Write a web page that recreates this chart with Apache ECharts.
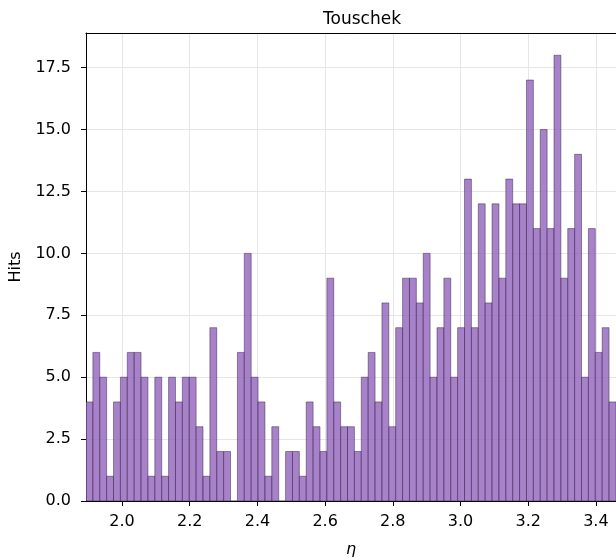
<!DOCTYPE html>
<html>
<head>
<meta charset="utf-8">
<title>Touschek</title>
<script src="https://cdn.jsdelivr.net/npm/echarts@6/dist/echarts.min.js"></script>
<style>
  html, body { margin: 0; padding: 0; background: #fff; }
  #chart { width: 616px; height: 558px; }
</style>
</head>
<body>
<div id="chart"></div>
<script>
// histogram of eta, bins (the frame cuts the plot on the right)
var binStart = 1.8935;
var binEnd = 3.5;
var binCount = 79;
var xVisibleMax = 3.4595;
var hits = [4, 6, 5, 1, 4, 5, 6, 6, 5, 1, 5, 1, 5, 4, 5, 5, 3, 1, 7, 2,
            2, 0, 6, 10, 5, 4, 1, 3, 0, 2, 2, 1, 4, 3, 2, 9, 4, 3, 3, 2,
            5, 6, 4, 8, 3, 7, 9, 9, 8, 10, 5, 7, 9, 5, 7, 13, 7, 12, 8, 12,
            9, 13, 12, 12, 17, 11, 15, 11, 18, 9, 11, 14, 5, 11, 6, 7, 4];
var xTicks = [2.0, 2.2, 2.4, 2.6, 2.8, 3.0, 3.2, 3.4];
var yTicks = [0, 2.5, 5, 7.5, 10, 12.5, 15, 17.5];

var binWidth = (binEnd - binStart) / binCount;
var bins = [];
for (var i = 0; i < hits.length; i++) {
    bins.push([binStart + i * binWidth, binStart + (i + 1) * binWidth, hits[i]]);
}

var font = 'DejaVu Sans';
var myChart = echarts.init(document.getElementById('chart'));
var option = {
    animation: false,
    title: {
        text: 'Touschek',
        left: 357,
        top: 6,
        textAlign: 'center',
        textStyle: { fontFamily: font, fontSize: 17, fontWeight: 'normal', color: '#000' }
    },
    grid: {
        left: 86,
        top: 33,
        right: 0,
        bottom: 57,
        outerBoundsMode: 'none'
    },
    xAxis: [{
        type: 'value',
        min: binStart,
        max: xVisibleMax,
        name: 'η',
        nameLocation: 'middle',
        nameGap: 41,
        nameTextStyle: { fontFamily: font, fontSize: 16, fontStyle: 'italic', color: '#000' },
        axisLine: { show: true, lineStyle: { color: '#000', width: 1 } },
        axisTick: { show: true, inside: false, length: 5, customValues: xTicks, lineStyle: { color: '#000' } },
        axisLabel: {
            customValues: xTicks, margin: 13, color: '#000', fontFamily: font, fontSize: 16,
            formatter: function (v) { return v.toFixed(1); }
        },
        splitLine: { show: true, lineStyle: { color: '#e6e6e6', width: 1 } }
    }, {
        // top spine only
        type: 'value',
        position: 'top',
        min: binStart,
        max: xVisibleMax,
        axisLine: { show: true, lineStyle: { color: '#000', width: 1 } },
        axisTick: { show: false },
        axisLabel: { show: false },
        splitLine: { show: false }
    }],
    yAxis: {
        type: 'value',
        min: 0,
        max: 18.9,
        name: 'Hits',
        nameLocation: 'middle',
        nameRotate: 90,
        nameGap: 62,
        nameTextStyle: { fontFamily: font, fontSize: 16, color: '#000' },
        axisLine: { show: true, lineStyle: { color: '#000', width: 1 } },
        axisTick: { show: true, inside: false, length: 5, customValues: yTicks, lineStyle: { color: '#000' } },
        axisLabel: {
            customValues: yTicks, margin: 15, color: '#000', fontFamily: font, fontSize: 16,
            formatter: function (v) { return v.toFixed(1); }
        },
        splitLine: { show: true, lineStyle: { color: '#e6e6e6', width: 1 } }
    },
    series: [{
        type: 'custom',
        clip: true,
        data: bins,
        encode: { x: [0, 1], y: 2 },
        renderItem: function (params, api) {
            var p0 = api.coord([api.value(0), api.value(2)]);
            var p1 = api.coord([api.value(1), 0]);
            return {
                type: 'rect',
                shape: { x: p0[0], y: p0[1], width: p1[0] - p0[0], height: p1[1] - p0[1] },
                style: { fill: 'rgba(148,103,189,0.82)', stroke: 'rgba(40,20,60,0.75)', lineWidth: 0.6 }
            };
        }
    }]
};
myChart.setOption(option);
</script>
</body>
</html>
